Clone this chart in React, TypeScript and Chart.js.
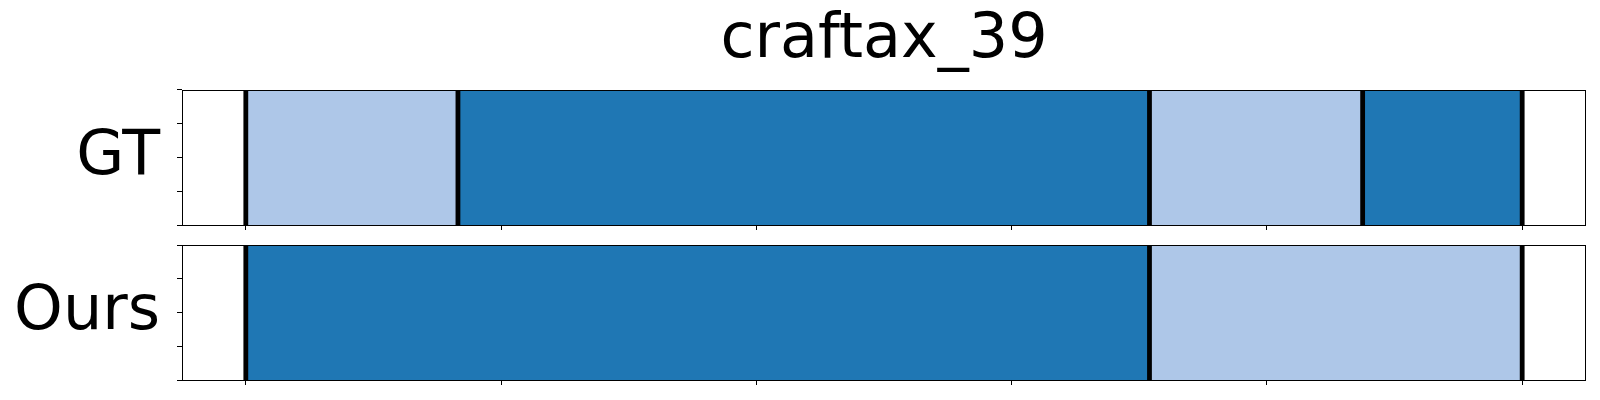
import React, { useEffect, useRef } from "react";
import { Chart, registerables } from "chart.js";

Chart.register(...registerables);

// ---- data ----
const TITLE = "craftax_39";
const ROW_LABELS = ["GT", "Ours"];
// normalized time boundaries of the segments in each row
const GT_BOUNDS = [0, 0.1662, 0.708, 0.875, 1];
const GT_CLASSES = [1, 0, 1, 0];
const OURS_BOUNDS = [0, 0.708, 1];
const OURS_CLASSES = [0, 1];
const X_TICK_STEP = 0.2;
const X_MIN = -0.05;
const X_MAX = 1.05;
const Y_MIN = 0;
const Y_MAX = 1;
const Y_TICK_STEP = 0.25;
const ROW_CENTER = 0.5;

// ---- styles ----
const CLASS_COLORS = ["#1f77b4", "#aec7e8"];
const FONT = "'DejaVu Sans', sans-serif";
const FONT_SIZE = 62;
const W = 1600;

const framePlugin = {
  id: "frame",
  afterDraw(chart: any) {
    const { ctx, chartArea } = chart;
    ctx.save();
    ctx.strokeStyle = "#000";
    ctx.lineWidth = 1;
    ctx.strokeRect(
      chartArea.left + 0.5,
      chartArea.top + 0.5,
      chartArea.right - chartArea.left - 1,
      chartArea.bottom - chartArea.top
    );
    ctx.restore();
  },
};

function buildConfig(
  rowLabel: string,
  bounds: number[],
  classes: number[],
  withTitle: boolean,
  xAxisHeight: number,
  padTop: number
): any {
  const datasets: any[] = [];
  bounds.forEach((b) => {
    datasets.push({
      type: "line",
      data: [
        { x: b, y: Y_MIN },
        { x: b, y: Y_MAX },
      ],
      borderColor: "#000",
      borderWidth: 4.8,
      borderCapStyle: "butt",
      pointRadius: 0,
      fill: false,
      tension: 0,
      order: 0,
    });
  });
  classes.forEach((c, i) => {
    datasets.push({
      type: "bar",
      data: [{ x: [bounds[i], bounds[i + 1]], y: ROW_CENTER }],
      backgroundColor: CLASS_COLORS[c],
      borderWidth: 0,
      stack: "row",
      barThickness: "flex",
      categoryPercentage: 1,
      barPercentage: 1,
      order: 1,
    });
  });

  return {
    type: "bar",
    data: { datasets },
    plugins: [framePlugin],
    options: {
      indexAxis: "y",
      animation: false,
      responsive: false,
      devicePixelRatio: 1,
      events: [],
      layout: { padding: { left: 0, right: 14, top: padTop, bottom: 0 } },
      plugins: {
        legend: { display: false },
        tooltip: { enabled: false },
        title: {
          display: withTitle,
          text: TITLE,
          fullSize: false,
          color: "#000",
          font: { family: FONT, size: FONT_SIZE, weight: "normal", lineHeight: 1.2 },
          padding: { top: 4, bottom: 11.6 },
        },
      },
      scales: {
        x: {
          type: "linear",
          min: X_MIN,
          max: X_MAX,
          stacked: false,
          offset: false,
          border: { display: false },
          grid: {
            offset: false,
            drawOnChartArea: false,
            drawTicks: true,
            tickLength: 5,
            color: "#000",
            lineWidth: 1,
          },
          ticks: {
            display: false,
            stepSize: X_TICK_STEP,
            includeBounds: false,
          },
          afterFit(scale: any) {
            scale.height = xAxisHeight;
          },
        },
        y: {
          type: "linear",
          min: Y_MIN,
          max: Y_MAX,
          offset: false,
          border: { display: false },
          grid: {
            offset: false,
            drawOnChartArea: false,
            drawTicks: true,
            tickLength: 5,
            color: "#000",
            lineWidth: 1,
          },
          ticks: {
            stepSize: Y_TICK_STEP,
            autoSkip: false,
            padding: 17,
            color: "#000",
            font: { family: FONT, size: FONT_SIZE },
            callback: (v: number) => (Math.abs(v - ROW_CENTER) < 1e-9 ? rowLabel : ""),
          },
          afterFit(scale: any) {
            scale.width = 182;
            scale.paddingTop = 0;
            scale.paddingBottom = 0;
          },
        },
      },
    },
  };
}

export default function App() {
  const refA = useRef<HTMLCanvasElement>(null);
  const refB = useRef<HTMLCanvasElement>(null);

  useEffect(() => {
    const a = new Chart(
      refA.current as HTMLCanvasElement,
      buildConfig(ROW_LABELS[0], GT_BOUNDS, GT_CLASSES, true, 10, 0)
    );
    const b = new Chart(
      refB.current as HTMLCanvasElement,
      buildConfig(ROW_LABELS[1], OURS_BOUNDS, OURS_CLASSES, false, 20, 10)
    );
    return () => {
      a.destroy();
      b.destroy();
    };
  }, []);

  return (
    <div
      style={{
        position: "fixed",
        left: 0,
        top: 0,
        width: W,
        height: 400,
        background: "#fff",
      }}
    >
      <canvas
        ref={refA}
        width={W}
        height={235}
        style={{ position: "absolute", left: 0, top: 0, display: "block" }}
      />
      <canvas
        ref={refB}
        width={W}
        height={165}
        style={{ position: "absolute", left: 0, top: 235, display: "block" }}
      />
    </div>
  );
}
